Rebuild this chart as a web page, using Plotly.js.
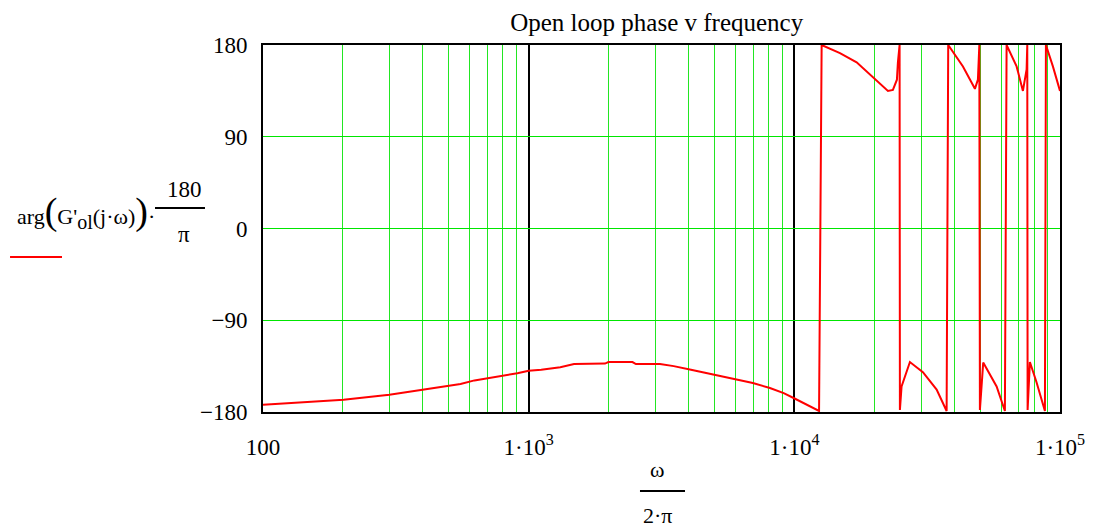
<!DOCTYPE html>
<html>
<head>
<meta charset="utf-8">
<script src="https://cdn.plot.ly/plotly-3.0.1.min.js"></script>
<style>html,body{margin:0;padding:0;background:#fff;}#chart{width:1093px;height:528px;}</style>
</head>
<body>
<div id="chart"></div>
<script>
// Frequency (Hz) = omega / (2*pi)
const freq = [100,201,299,400,502,554,625,698,805,907,1000,1115,1315,1482,1937,1996,2459,2533,3120,3516,4083,5026,6013,6980,8093,9120,9980,10800,12390,
  12670,14850,17160,19760,22510,23500,24330,24540,24900,
  24970,25330,27230,30480,34330,37430,
  37950,43120,47840,49090,49700,
  49950,51400,57730,62030,
  62950,68650,72510,74870,75300,
  75520,77040,81640,87750,
  88510,94030,100000];
// Phase in degrees: arg(G'ol(j*omega))*180/pi
const phase = [-173,-168,-163,-158,-154,-152.5,-149,-147,-144,-142,-139.5,-138.5,-136,-133,-132.5,-131,-131,-133,-133,-135,-138.5,-143.5,-147.5,-151.5,-156.5,-161.5,-166.5,-171,-179,
  180,172,163,148,135,136,146,163,180,
  -178,-155,-131,-141,-158,-179,
  180,159,137,146,180,
  -178,-131.5,-155,-179,
  180,159,135,156,180,
  -178,-131,-151,-179,
  180,159,135];
const xTickVals = [100,1000,10000,100000];
const xTickText = ['100','1·10<sup>3</sup>','1·10<sup>4</sup>','1·10<sup>5</sup>'];
const yTickVals = [-180,-90,0,90,180];
const yTickText = ['−180','−90','0','90','180'];

const FONT = 'Liberation Serif, Times New Roman, serif';
const trace = {
  x: freq, y: phase, type: 'scatter', mode: 'lines',
  line: {color: '#ff0000', width: 2}, hoverinfo: 'skip', showlegend: false
};
const layout = {
  width: 1093, height: 528,
  margin: {l: 263, r: 33, t: 45, b: 116},
  paper_bgcolor: '#ffffff', plot_bgcolor: '#ffffff',
  font: {family: FONT, size: 23, color: '#000'},
  title: {text: 'Open loop phase v frequency', font: {family: FONT, size: 25, color: '#000'},
          xref: 'paper', x: 0.494, xanchor: 'center', yref: 'container', y: 1 - 22/528, yanchor: 'middle'},
  xaxis: {
    type: 'log', range: [2, 5], tickvals: xTickVals, ticktext: xTickText,
    showgrid: true, gridcolor: '#000000', gridwidth: 2,
    minor: {showgrid: true, gridcolor: '#22e622', gridwidth: 1, dtick: 'D1', ticks: ''},
    showline: true, linecolor: '#000', linewidth: 2, mirror: true,
    ticks: 'outside', ticklen: 0, ticklabelstandoff: 13, zeroline: false,
    tickfont: {family: FONT, size: 23}
  },
  yaxis: {
    range: [-180, 180], tickvals: yTickVals, ticktext: yTickText,
    showgrid: true, gridcolor: '#00e600', gridwidth: 1,
    showline: true, linecolor: '#000', linewidth: 2, mirror: true,
    ticks: 'outside', ticklen: 0, ticklabelstandoff: 9, zeroline: false,
    tickfont: {family: FONT, size: 23}
  },
  shapes: [
    {type: 'line', xref: 'paper', yref: 'paper', x0: 0.473, x1: 0.5295, y0: -0.2153, y1: -0.2153, line: {color: '#000', width: 2}},
    {type: 'line', xref: 'paper', yref: 'paper', x0: -0.1355, x1: -0.0728, y0: 0.5559, y1: 0.5559, line: {color: '#000', width: 2}},
    {type: 'line', xref: 'paper', yref: 'paper', x0: -0.3174, x1: -0.2522, y0: 0.4223, y1: 0.4223, line: {color: '#ff0000', width: 2}}
  ],
  annotations: [
    {xref: 'paper', yref: 'paper', x: 0.4944, y: -0.158, text: 'ω', showarrow: false, xanchor: 'center', yanchor: 'middle', font: {family: FONT, size: 22}},
    {xref: 'paper', yref: 'paper', x: 0.4944, y: -0.2807, text: '2·π', showarrow: false, xanchor: 'center', yanchor: 'middle', font: {family: FONT, size: 22}},
    {xref: 'paper', yref: 'paper', x: -0.3112, y: 0.545, xanchor: 'left', yanchor: 'middle', showarrow: false,
     text: "arg<span style=\"font-size:38px\">(</span>G'<sub><span style=\"font-size:20px\">ol</span></sub>(j·ω)<span style=\"font-size:38px\">)</span>·", font: {family: FONT, size: 22}},
    {xref: 'paper', yref: 'paper', x: -0.0991, y: 0.605, text: '180', showarrow: false, xanchor: 'center', yanchor: 'middle', font: {family: FONT, size: 23}},
    {xref: 'paper', yref: 'paper', x: -0.0991, y: 0.4823, text: 'π', showarrow: false, xanchor: 'center', yanchor: 'middle', font: {family: FONT, size: 23}}
  ]
};
Plotly.newPlot('chart', [trace], layout, {staticPlot: true, displayModeBar: false});
</script>
</body>
</html>
